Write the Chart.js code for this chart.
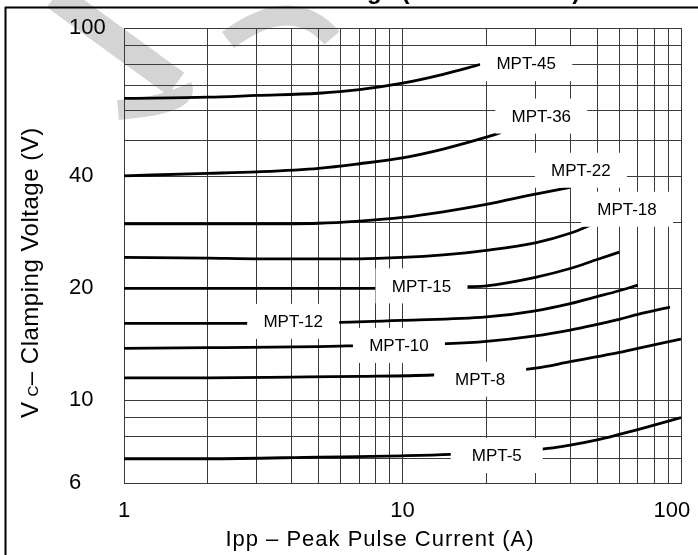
<!DOCTYPE html>
<html>
<head>
<meta charset="utf-8">
<script src="https://cdn.jsdelivr.net/npm/chart.js@4.4.0/dist/chart.umd.min.js"></script>
<style>
  html, body { margin: 0; padding: 0; background: #fff; }
  #chart { display: block; }
</style>
</head>
<body>
<canvas id="chart" width="698" height="555"></canvas>
<script>
// Ipp (A) / Vc (V) pairs
const ipp45 = [1, 2, 3, 5, 7, 10, 14, 19]
const vc45  = [64.7, 65.2, 65.9, 66.8, 68.3, 71.1, 75.1, 79.8]
const ipp36 = [1, 2, 3, 5, 7, 10, 14, 20, 22.6]
const vc36  = [40.1, 40.7, 41.1, 42.0, 43.2, 44.8, 47.3, 50.9, 52.4]
const ipp22 = [1, 2, 3, 5, 7, 10, 14, 20, 30, 40]
const vc22  = [29.8, 29.8, 29.8, 29.9, 30.3, 31.0, 32.1, 33.6, 35.8, 37.3]
const ipp18 = [1, 2, 3, 5, 7, 10, 14, 20, 30, 40, 48.4]
const vc18  = [24.2, 24.1, 24.0, 24.0, 24.0, 24.2, 24.6, 25.3, 26.5, 28.1, 29.75]
const ipp15 = [1, 2, 3, 5, 7.5, 17.3, 20, 30, 40, 50, 60]
const vc15  = [20, 20, 20, 20, 20, 20.2, 20.3, 21.4, 22.6, 23.9, 25.0]
const ipp12 = [1, 2, 2.9, 5.9, 10, 20, 30, 40, 50, 60, 70]
const vc12  = [16.1, 16.1, 16.1, 16.2, 16.4, 16.75, 17.4, 18.2, 19.0, 19.7, 20.4]
const ipp10 = [1, 2, 5, 6.3, 14.5, 20, 30, 40, 50, 60, 70.5, 91.3]
const vc10  = [13.8, 13.85, 13.95, 14.0, 14.2, 14.4, 14.9, 15.45, 16.0, 16.5, 17.05, 17.8]
const ipp8  = [1, 2, 4, 7, 12.8, 27.2, 30, 40, 50, 60, 70, 100]
const vc8   = [11.5, 11.5, 11.55, 11.6, 11.7, 12.1, 12.2, 12.7, 13.1, 13.45, 13.8, 14.6]
const ipp5  = [1, 2, 5, 10, 14.9, 30.9, 40, 50, 60, 70, 100]
const vc5   = [6.97, 6.97, 7.04, 7.10, 7.16, 7.38, 7.58, 7.83, 8.1, 8.35, 8.99]

const names = ['MPT-45', 'MPT-36', 'MPT-22', 'MPT-18', 'MPT-15', 'MPT-12', 'MPT-10', 'MPT-8', 'MPT-5']
// where each curve's tag sits (Ipp, Vc)
const tagIpp = [27.8, 31.5, 43.7, 64.0, 11.7, 4.05, 9.71, 19.0, 21.8]
const tagVc  = [80.2, 58.0, 41.5, 32.6, 20.3, 16.3, 14.05, 11.4, 7.11]

const ippTicks  = [1, 2, 3, 4, 5, 6, 7, 8, 9, 10, 20, 30, 40, 50, 60, 70, 80, 90, 100]
const ippLabels = [1, 10, 100]
const vcTicks   = [6, 7, 8, 9, 10, 20, 30, 40, 50, 60, 70, 80, 90, 100]
const vcLabels  = [6, 10, 20, 40, 100]

const FONT = "'Liberation Sans', Arial, sans-serif"
const GRID = '#3a3a3a'

const curves = [
  [ipp45, vc45], [ipp36, vc36], [ipp22, vc22], [ipp18, vc18], [ipp15, vc15],
  [ipp12, vc12], [ipp10, vc10], [ipp8, vc8], [ipp5, vc5]
]

const datasets = curves.map(([xs, ys], i) => ({
  label: names[i],
  data: xs.map((x, j) => ({ x: x, y: ys[j] })),
  borderColor: '#000',
  borderWidth: 2.8,
  pointRadius: 0,
  fill: false,
  cubicInterpolationMode: 'monotone'
}))

// white page, grey watermark, frame and the clipped heading
const backdrop = {
  id: 'backdrop',
  beforeDraw(chart) {
    const ctx = chart.ctx
    ctx.save()
    ctx.fillStyle = '#fff'
    ctx.fillRect(0, 0, chart.width, chart.height)

    ctx.strokeStyle = '#d4d4d4'
    ctx.lineCap = 'butt'
    ctx.lineJoin = 'round'
    ctx.lineWidth = 28
    ctx.beginPath()
    ctx.moveTo(55, -4)
    ctx.lineTo(176, 84)
    ctx.stroke()
    ctx.lineWidth = 20
    ctx.beginPath()
    ctx.moveTo(182, 86)
    ctx.quadraticCurveTo(190, 104, 118, 110)
    ctx.stroke()
    ctx.beginPath()
    ctx.moveTo(228, 40)
    ctx.quadraticCurveTo(292, -8, 332, 38)
    ctx.stroke()

    ctx.strokeStyle = '#000'
    ctx.lineWidth = 2
    ctx.beginPath()
    ctx.moveTo(5.5, 560)
    ctx.lineTo(5.5, 7.5)
    ctx.lineTo(702, 7.5)
    ctx.stroke()

    ctx.fillStyle = '#000'
    ctx.font = 'bold 24px ' + FONT
    ctx.textAlign = 'left'
    ctx.textBaseline = 'alphabetic'
    ctx.fillText('Voltage (VC versus IPP)', 310, -1)
    ctx.restore()
  }
}

// white tag boxes over the curves
const tags = {
  id: 'tags',
  afterDatasetsDraw(chart) {
    const { ctx, scales: { x, y } } = chart
    ctx.save()
    ctx.font = '17px ' + FONT
    ctx.textAlign = 'center'
    ctx.textBaseline = 'middle'
    names.forEach((name, i) => {
      const px = x.getPixelForValue(tagIpp[i])
      const py = y.getPixelForValue(tagVc[i])
      ctx.fillStyle = '#fff'
      ctx.fillRect(px - 46, py - 17.5, 92, 35)
      ctx.fillStyle = '#000'
      ctx.fillText(name, px, py + 1)
    })
    ctx.restore()
  }
}

// axis titles (the y one has a subscript C)
const titles = {
  id: 'titles',
  afterDraw(chart) {
    const ctx = chart.ctx
    ctx.save()
    ctx.fillStyle = '#000'
    ctx.letterSpacing = '1px'
    ctx.font = '22px ' + FONT
    ctx.textAlign = 'center'
    ctx.textBaseline = 'middle'
    ctx.fillText('Ipp – Peak Pulse Current (A)', 380, 540)

    ctx.letterSpacing = '0.5px'
    ctx.translate(38, 418)
    ctx.rotate(-Math.PI / 2)
    ctx.textAlign = 'left'
    ctx.textBaseline = 'alphabetic'
    let pos = 0
    ctx.font = '24px ' + FONT
    ctx.fillText('V', pos, 0)
    pos += ctx.measureText('V').width + 5
    ctx.font = '15px ' + FONT
    ctx.fillText('C', pos, 0)
    pos += ctx.measureText('C').width
    ctx.font = '24px ' + FONT
    ctx.fillText('– Clamping Voltage (V)', pos, 0)
    ctx.restore()
  }
}

new Chart(document.getElementById('chart').getContext('2d'), {
  type: 'line',
  data: { datasets: datasets },
  options: {
    responsive: false,
    animation: false,
    devicePixelRatio: 1,
    layout: { padding: { left: 69, right: 17, top: 28, bottom: 0 } },
    plugins: {
      legend: { display: false },
      tooltip: { enabled: false },
      title: { display: false }
    },
    scales: {
      x: {
        type: 'logarithmic',
        min: 1,
        max: 100,
        afterBuildTicks: s => { s.ticks = ippTicks.map(v => ({ value: v })) },
        afterFit: s => { s.height = 72; s.paddingLeft = 0; s.paddingRight = 0 },
        grid: { color: GRID, lineWidth: 1, drawTicks: false },
        border: { color: GRID, width: 1 },
        ticks: {
          autoSkip: false,
          maxRotation: 0,
          padding: 15,
          color: '#000',
          font: { family: FONT, size: 22 },
          callback: v => ippLabels.includes(v) ? (v === 100 ? '100   ' : String(v)) : ''
        }
      },
      y: {
        type: 'logarithmic',
        min: 6,
        max: 100,
        afterBuildTicks: s => { s.ticks = vcTicks.map(v => ({ value: v })) },
        afterFit: s => { s.width = 55; s.paddingTop = 0; s.paddingBottom = 0 },
        grid: { color: GRID, lineWidth: 1, drawTicks: false },
        border: { color: GRID, width: 1 },
        ticks: {
          autoSkip: false,
          crossAlign: 'far',
          color: '#000',
          font: { family: FONT, size: 22 },
          callback: v => vcLabels.includes(v) ? String(v) : ''
        }
      }
    }
  },
  plugins: [backdrop, tags, titles]
})
</script>
</body>
</html>
